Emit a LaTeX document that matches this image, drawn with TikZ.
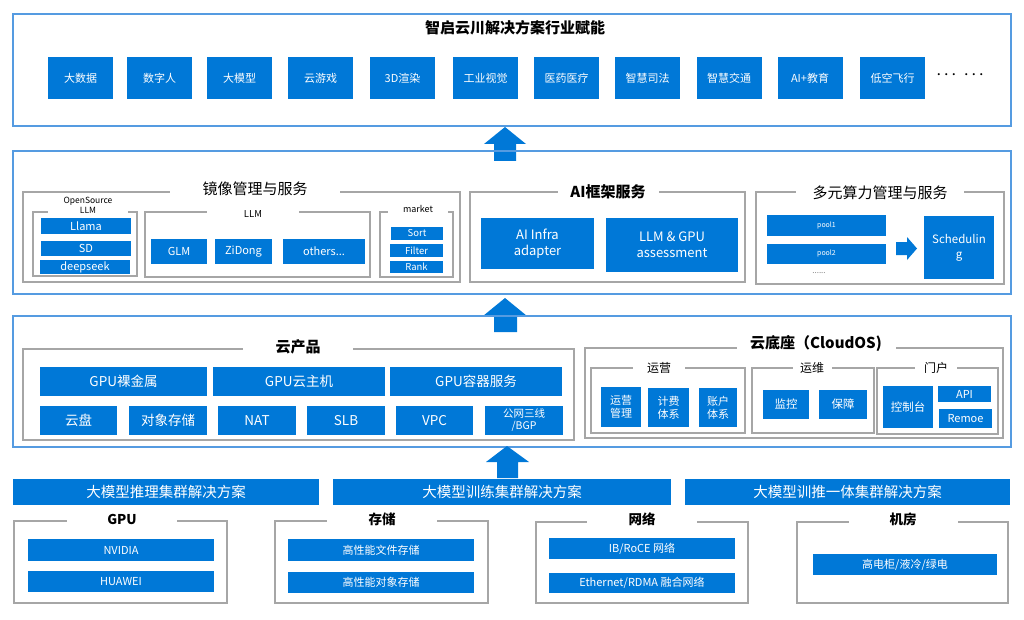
\documentclass[tikz,border=0pt]{standalone}
\usepackage{fontspec}
\setmainfont{Noto Sans CJK SC}
\definecolor{boxblue}{RGB}{0,120,215}
\definecolor{panelblue}{RGB}{85,155,225}
\definecolor{grpgray}{RGB}{166,166,166}
\tikzset{
  panel/.style={draw=panelblue, line width=1.3pt},
  grp/.style={draw=grpgray, line width=1.3pt},
  grptitle/.style={fill=white, inner sep=0pt, minimum height=12pt, align=center},
  bx/.style={fill=boxblue, text=white, inner sep=0pt, align=center, font=\fontsize{11}{12}\selectfont},
  bigarrow/.style={fill=boxblue},
}
\begin{document}
\begin{tikzpicture}[x=1pt, y=-1pt]
  \useasboundingbox (0,0) rectangle (1024,620);

  % Industry layer
  \draw[panel] (13,14) rectangle (1011,126);
  \node[font=\fontsize{15}{17}\selectfont\bfseries] (toptitle) at (515,28) {智启云川解决方案行业赋能};
  \node[bx, minimum width=65, minimum height=42] (bigdata) at (80.5,78) {大数据};
  \node[bx, minimum width=65, minimum height=42] (digital) at (159.5,78) {数字人};
  \node[bx, minimum width=65, minimum height=42] (bigmodel) at (239.5,78) {大模型};
  \node[bx, minimum width=65, minimum height=42] (cloudgame) at (320.5,78) {云游戏};
  \node[bx, minimum width=65, minimum height=42] (render) at (402.5,78) {3D渲染};
  \node[bx, minimum width=65, minimum height=42] (vision) at (485.5,78) {工业视觉};
  \node[bx, minimum width=65, minimum height=42] (medical) at (566.5,78) {医药医疗};
  \node[bx, minimum width=65, minimum height=42] (justice) at (647.5,78) {智慧司法};
  \node[bx, minimum width=65, minimum height=42] (traffic) at (729,78) {智慧交通};
  \node[bx, minimum width=65, minimum height=42] (edu) at (810,78) {AI+教育};
  \node[bx, minimum width=65, minimum height=42] (flight) at (892.5,78) {低空飞行};
  \node[font=\fontsize{7.5}{8}\selectfont\bfseries] (moredots) at (960,76) {···\hspace{5pt}···};

  \fill[bigarrow] (505,127) -- (526,144) -- (516,144) -- (516,161) -- (494,161) -- (494,144) -- (484,144) -- cycle;

  % Service layer
  \draw[panel] (13,151) rectangle (1011,294);

  \draw[grp] (23,192) rectangle (460,282);
  \node[grptitle, minimum width=170, font=\fontsize{15}{17}\selectfont] (mirror) at (255,189) {镜像管理与服务};
  \draw[grp] (33,212) rectangle (137,276);
  \node[grptitle, minimum width=80, font=\fontsize{8.5}{10}\selectfont] (osllm) at (88,205) {OpenSource\\LLM};
  \node[bx, minimum width=90, minimum height=16] (llama) at (86,226) {Llama};
  \node[bx, minimum width=90, minimum height=15] (sd) at (86,248.5) {SD};
  \node[bx, minimum width=90, minimum height=14] (deepseek) at (85,267) {deepseek};
  \draw[grp] (145,212) rectangle (370,277);
  \node[grptitle, minimum width=92, font=\fontsize{9.5}{11}\selectfont] (llm) at (253,214) {LLM};
  \node[bx, minimum width=56, minimum height=25] (glm) at (179,251.5) {GLM};
  \node[bx, minimum width=57, minimum height=25] (zidong) at (243.5,251.5) {ZiDong};
  \node[bx, minimum width=82, minimum height=25] (others) at (324,251.5) {others...};
  \draw[grp] (380,212) rectangle (453,277);
  \node[grptitle, minimum width=60, font=\fontsize{9}{11}\selectfont] (market) at (418,209) {market};
  \node[bx, minimum width=52, minimum height=13, font=\fontsize{9.5}{10}\selectfont] (sort) at (417,233.5) {Sort};
  \node[bx, minimum width=53, minimum height=13, font=\fontsize{9.5}{10}\selectfont] (filter) at (416.5,250.5) {Filter};
  \node[bx, minimum width=53, minimum height=12, font=\fontsize{9.5}{10}\selectfont] (rank) at (416.5,267) {Rank};

  \draw[grp] (470,192) rectangle (745,282);
  \node[grptitle, minimum width=101, font=\fontsize{15}{17}\selectfont\bfseries] (aifw) at (608,192) {AI框架服务};
  \node[bx, minimum width=113, minimum height=51, font=\fontsize{13}{16}\selectfont] (infra) at (537.5,243.5) {AI Infra\\adapter};
  \node[bx, minimum width=132, minimum height=54, font=\fontsize{13}{16}\selectfont] (assess) at (672,245) {LLM \& GPU\\assessment};

  \draw[grp] (756,192) rectangle (1004,284);
  \node[grptitle, minimum width=168, font=\fontsize{15}{17}\selectfont] (compute) at (880,193) {多元算力管理与服务};
  \node[bx, minimum width=119, minimum height=21, font=\fontsize{7}{8}\selectfont] (pool1) at (826.5,225.5) {pool1};
  \node[bx, minimum width=119, minimum height=20, font=\fontsize{7}{8}\selectfont] (pool2) at (826.5,254) {pool2};
  \node[text=gray, font=\fontsize{8}{8}\selectfont] (pooldots) at (819,273) {......};
  \fill[bigarrow] (896,242) -- (907,242) -- (907,237) -- (917,248.5) -- (907,260) -- (907,255) -- (896,255) -- cycle;
  \node[bx, minimum width=70, minimum height=63, font=\fontsize{11.5}{15}\selectfont] (sched) at (959,247.5) {Schedulin\\g};

  \fill[bigarrow] (505,298) -- (527,316) -- (517,316) -- (517,332) -- (494,332) -- (494,316) -- (483,316) -- cycle;

  % Cloud layer
  \draw[panel] (13,316) rectangle (1011,447);

  \draw[grp] (23,349) rectangle (574,440);
  \node[grptitle, minimum width=110, font=\fontsize{15}{17}\selectfont\bfseries] (cloudprod) at (298,347) {云产品};
  \node[bx, minimum width=167, minimum height=29, font=\fontsize{13.5}{15}\selectfont] (baremetal) at (123.5,381.5) {GPU裸金属};
  \node[bx, minimum width=172, minimum height=29, font=\fontsize{13.5}{15}\selectfont] (gpuvm) at (299,381.5) {GPU云主机};
  \node[bx, minimum width=172, minimum height=29, font=\fontsize{13.5}{15}\selectfont] (container) at (476,381.5) {GPU容器服务};
  \node[bx, minimum width=77, minimum height=29, font=\fontsize{13.5}{15}\selectfont] (disk) at (78.5,420.5) {云盘};
  \node[bx, minimum width=78, minimum height=29, font=\fontsize{13.5}{15}\selectfont] (oss) at (168,420.5) {对象存储};
  \node[bx, minimum width=78, minimum height=29, font=\fontsize{13.5}{15}\selectfont] (nat) at (257,420.5) {NAT};
  \node[bx, minimum width=78, minimum height=29, font=\fontsize{13.5}{15}\selectfont] (slb) at (346,420.5) {SLB};
  \node[bx, minimum width=77, minimum height=29, font=\fontsize{13.5}{15}\selectfont] (vpc) at (434.5,420.5) {VPC};
  \node[bx, minimum width=78, minimum height=29, font=\fontsize{10.5}{12}\selectfont] (bgp) at (524,420.5) {公网三线\\/BGP};

  \draw[grp] (585,348) rectangle (1003,438);
  \node[grptitle, minimum width=159, font=\fontsize{15}{17}\selectfont\bfseries] (cloudos) at (816,344) {云底座（CloudOS)};
  \draw[grp] (591,368) rectangle (745,433);
  \node[grptitle, minimum width=52, font=\fontsize{12}{14}\selectfont] (ops) at (659,368) {运营};
  \node[bx, minimum width=40, minimum height=40, font=\fontsize{11}{13}\selectfont] (opsmgmt) at (621,407) {运营\\管理};
  \node[bx, minimum width=41, minimum height=39, font=\fontsize{11}{13}\selectfont] (billing) at (668.5,407.5) {计费\\体系};
  \node[bx, minimum width=38, minimum height=39, font=\fontsize{11}{13}\selectfont] (account) at (718,407.5) {账户\\体系};
  \draw[grp] (752,368) rectangle (874,433);
  \node[grptitle, minimum width=39, font=\fontsize{12}{14}\selectfont] (maint) at (812,368) {运维};
  \node[bx, minimum width=46, minimum height=29, font=\fontsize{11.5}{13}\selectfont] (monitor) at (786,404.5) {监控};
  \node[bx, minimum width=48, minimum height=29, font=\fontsize{11.5}{13}\selectfont] (guard) at (843,404.5) {保障};
  \draw[grp] (877,368) rectangle (998,434);
  \node[grptitle, minimum width=42, font=\fontsize{12}{14}\selectfont] (portal) at (936,368) {门户};
  \node[bx, minimum width=50, minimum height=42, font=\fontsize{11.5}{13}\selectfont] (console) at (908,407) {控制台};
  \node[bx, minimum width=53, minimum height=16] (api) at (964.5,394) {API};
  \node[bx, minimum width=53, minimum height=19] (remoe) at (965.5,418.5) {Remoe};

  \fill[bigarrow] (507,446) -- (529,462) -- (518,462) -- (518,478) -- (497,478) -- (497,462) -- (486,462) -- cycle;

  % Cluster solutions
  \node[bx, minimum width=306, minimum height=26, font=\fontsize{14.5}{16}\selectfont] (infer) at (166,492) {大模型推理集群解决方案};
  \node[bx, minimum width=338, minimum height=26, font=\fontsize{14.5}{16}\selectfont] (train) at (502,492) {大模型训练集群解决方案};
  \node[bx, minimum width=325, minimum height=26, font=\fontsize{14.5}{16}\selectfont] (unified) at (847.5,492) {大模型训推一体集群解决方案};

  \draw[grp] (14,521) rectangle (227,603);
  \node[grptitle, minimum width=110, font=\fontsize{13.5}{15}\selectfont\bfseries] (gpu) at (122,519) {GPU};
  \node[bx, minimum width=186, minimum height=22] (nvidia) at (121,550) {NVIDIA};
  \node[bx, minimum width=186, minimum height=21] (huawei) at (121,581.5) {HUAWEI};

  \draw[grp] (275,521) rectangle (488,603);
  \node[grptitle, minimum width=110, font=\fontsize{13.5}{15}\selectfont\bfseries] (storage) at (382,519) {存储};
  \node[bx, minimum width=186, minimum height=22] (filestore) at (381,550) {高性能文件存储};
  \node[bx, minimum width=186, minimum height=21] (objstore) at (381,582.5) {高性能对象存储};

  \draw[grp] (536,522) rectangle (748,603);
  \node[grptitle, minimum width=110, font=\fontsize{13.5}{15}\selectfont\bfseries] (network) at (642,519) {网络};
  \node[bx, minimum width=186, minimum height=21] (ib) at (642,548.5) {IB/RoCE 网络};
  \node[bx, minimum width=186, minimum height=20] (eth) at (642,583) {Ethernet/RDMA 融合网络};

  \draw[grp] (797,522) rectangle (1008,603);
  \node[grptitle, minimum width=109, font=\fontsize{13.5}{15}\selectfont\bfseries] (room) at (903,519) {机房};
  \node[bx, minimum width=184, minimum height=21] (power) at (905,564.5) {高电柜/液冷/绿电};
\end{tikzpicture}
\end{document}
